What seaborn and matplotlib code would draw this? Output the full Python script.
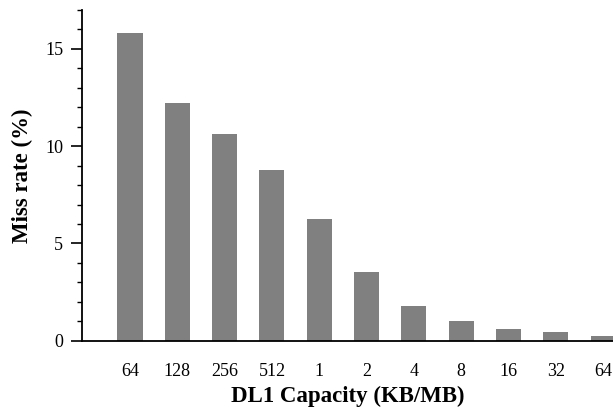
import matplotlib
matplotlib.use("Agg")
import matplotlib.pyplot as plt
import seaborn as sns
import pandas as pd
from matplotlib.ticker import MultipleLocator

categories = ["64KB", "128KB", "256KB", "512KB", "1MB", "2MB", "4MB", "8MB", "16MB", "32MB", "64MB"]
tick_labels = ["64", "128", "256", "512", "1", "2", "4", "8", "16", "32", "64"]
miss_rate = [15.80, 12.23, 10.64, 8.76, 6.24, 3.51, 1.78, 0.99, 0.60, 0.43, 0.26]

sns.set_theme(style="ticks")
plt.rcParams["font.family"] = ["Liberation Serif", "DejaVu Serif"]
plt.rcParams["axes.labelcolor"] = "black"
plt.rcParams["text.color"] = "black"

df = pd.DataFrame({"cap": categories, "rate": miss_rate})

fig = plt.figure(figsize=(6.13, 4.09), dpi=100)
ax = fig.add_axes([0.1338, 0.167, 0.8662, 0.8086])

sns.barplot(data=df, x="cap", y="rate", order=categories, color="#808080",
            saturation=1, width=0.53, ax=ax, edgecolor="none")

ax.set_xlim(-1.015, 10.21)
ax.set_ylim(0, 17)
ax.set_xticks(range(len(categories)))
ax.set_xticklabels(tick_labels)
ax.yaxis.set_major_locator(MultipleLocator(5))
ax.yaxis.set_minor_locator(MultipleLocator(1))

for s in ["top", "right"]:
    ax.spines[s].set_visible(False)
for s in ["left", "bottom"]:
    ax.spines[s].set_linewidth(1.3)
    ax.spines[s].set_color("black")

ax.tick_params(axis="y", which="major", direction="out", length=8, width=1.2,
               labelsize=13, pad=5.5, colors="black")
ax.tick_params(axis="y", which="minor", direction="out", length=3.8, width=1.0, colors="black")
ax.tick_params(axis="x", which="both", length=0, labelsize=13, pad=16, colors="black")

ax.set_xlabel("DL1 Capacity (KB/MB)", fontsize=16.5, fontweight="bold", labelpad=4, color="black")
ax.set_ylabel("Miss rate (%)", fontsize=16.5, fontweight="bold", labelpad=9, color="black")

fig.savefig("out.png", dpi=100)
